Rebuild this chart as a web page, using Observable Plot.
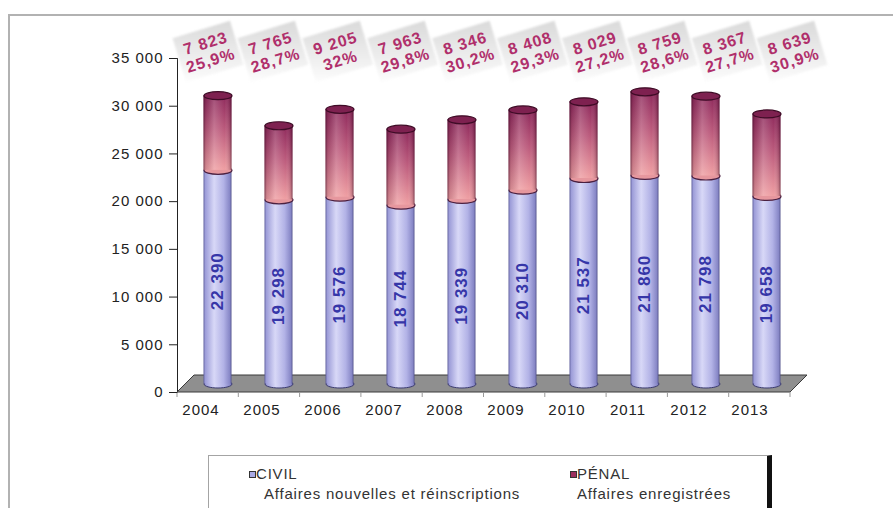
<!DOCTYPE html>
<html>
<head>
<meta charset="utf-8">
<script src="https://cdn.jsdelivr.net/npm/d3@7"></script>
<script src="https://cdn.jsdelivr.net/npm/@observablehq/plot@0.6"></script>
<style>
  html, body { margin: 0; padding: 0; background: #fff; }
  body { position: relative; width: 893px; height: 508px; overflow: hidden; font-family: "Liberation Sans", Arial, sans-serif; }
  #chart { position: absolute; left: 0; top: 0; }
  #frame { position: absolute; left: 8px; top: 14px; width: 900px; height: 600px;
           border-top: 2px solid #b2b2b2; border-left: 2px solid #b2b2b2; pointer-events: none; }
  #legend { position: absolute; left: 208px; top: 455px; width: 558px; height: 70px;
            border: 1px solid #a4a4a4; border-right: 5px solid #111; background: #fff; }
  #legend span { position: absolute; white-space: nowrap; font-size: 15px; line-height: 15px;
                 color: #333; letter-spacing: 0.8px; }
  #legend i { position: absolute; width: 5px; height: 5px; border: 1px solid #333; }
  .label-card { filter: blur(1.2px); }
</style>
</head>
<body>
<div id="chart"></div>
<div id="frame"></div>
<div id="legend">
  <i style="left:40px;top:15px;background:#a9a9e4"></i>
  <span style="left:47px;top:10px">CIVIL</span>
  <span style="left:55px;top:30px">Affaires nouvelles et réinscriptions</span>
  <i style="left:361px;top:15px;background:#9c2e5e"></i>
  <span style="left:368px;top:10px">PÉNAL</span>
  <span style="left:368px;top:30px">Affaires enregistrées</span>
</div>
<script>
// Cases per year: civil (new cases and re-registrations) and criminal (registered cases)
const years = ["2004", "2005", "2006", "2007", "2008", "2009", "2010", "2011", "2012", "2013"];
const civil = [22390, 19298, 19576, 18744, 19339, 20310, 21537, 21860, 21798, 19658];
const penal = [7823, 7765, 9205, 7963, 8346, 8408, 8029, 8759, 8367, 8639];
const penalShare = ["25,9%", "28,7%", "32%", "29,8%", "30,2%", "29,3%", "27,2%", "28,6%", "27,7%", "30,9%"];
const yTicks = [0, 5000, 10000, 15000, 20000, 25000, 30000, 35000];

const rows = years.map((year, i) => ({
  year, i, civil: civil[i], penal: penal[i], total: civil[i] + penal[i], share: penalShare[i]
}));

const fmt = (d) => d3.format(",")(d).replace(/,/g, " ");

// pseudo-3D depth of the floor; cylinders stand halfway into it
const depth = 17;
const half = depth / 2;

// elliptical cap for the cylinders
function ellipse(rx, ry) {
  const k = 0.5523;
  return {
    draw(c) {
      c.moveTo(rx, 0);
      c.bezierCurveTo(rx, ry * k, rx * k, ry, 0, ry);
      c.bezierCurveTo(-rx * k, ry, -rx, ry * k, -rx, 0);
      c.bezierCurveTo(-rx, -ry * k, -rx * k, -ry, 0, -ry);
      c.bezierCurveTo(rx * k, -ry, rx, -ry * k, rx, 0);
      c.closePath();
    }
  };
}

// tilted card behind the value labels
function card(w, h, deg) {
  const t = deg * Math.PI / 180, cs = Math.cos(t), sn = Math.sin(t);
  const pts = [[-w / 2, -h / 2], [w / 2, -h / 2], [w / 2, h / 2], [-w / 2, h / 2]]
    .map(([x, y]) => [x * cs - y * sn, x * sn + y * cs]);
  return {
    draw(c) {
      c.moveTo(pts[0][0], pts[0][1]);
      for (const p of pts.slice(1)) c.lineTo(p[0], p[1]);
      c.closePath();
    }
  };
}

const cap = ellipse(14, 4);
const labelAngle = -17;

const topLabels = rows.flatMap((r) => {
  const dx = -1.5 + 3.9 * r.i;
  return [
    Plot.dot([r], {x: "year", frameAnchor: "top", dx, dy: -7, symbol: card(60, 46, labelAngle),
      fill: "url(#cardGrad)", stroke: "none", className: "label-card"}),
    Plot.text([r], {x: "year", frameAnchor: "top", lineAnchor: "middle", dx, dy: -7, rotate: labelAngle,
      text: (d) => `${fmt(d.penal)}\n${d.share}`, lineHeight: 1.12,
      fill: "#b02f6b", fontSize: 16, fontWeight: "bold", letterSpacing: "1.1px"})
  ];
});

const chart = Plot.plot({
  width: 893,
  height: 440,
  marginTop: 58,
  marginBottom: 48,
  marginLeft: 177,
  marginRight: 103,
  style: {fontFamily: "Liberation Sans, Arial, sans-serif", fontSize: "15px", color: "#222",
          letterSpacing: "1px", overflow: "visible", background: "transparent"},
  x: {domain: years, paddingInner: 0.544, paddingOuter: 0.272, axis: null},
  y: {domain: [0, 35000], ticks: yTicks, tickFormat: fmt, tickSize: 8, tickPadding: 6,
      line: true, label: null},
  marks: [
    ...topLabels,
    // bottom of the cylinders
    Plot.dot(rows, {x: "year", y: () => 0, dx: half, dy: -half, symbol: cap,
      fill: "url(#civilGrad)", stroke: "#3c3c70", strokeWidth: 1}),
    // civil part
    Plot.barY(rows, {x: "year", y1: () => 0, y2: "civil", dx: half, dy: -half,
      fill: "url(#civilGrad)"}),
    // junction civil / penal
    Plot.dot(rows, {x: "year", y: "civil", dx: half, dy: -half, symbol: cap,
      fill: "#e6979e", stroke: "#4a2040", strokeWidth: 1.2}),
    // penal part
    Plot.barY(rows, {x: "year", y1: "civil", y2: "total", dx: half, dy: -half,
      fill: "url(#penalGrad)"}),
    Plot.barY(rows, {x: "year", y1: "civil", y2: "total", dx: half, dy: -half,
      fill: "url(#shadeGrad)"}),
    // top of the cylinders
    Plot.dot(rows, {x: "year", y: "total", dx: half, dy: -half, symbol: cap,
      fill: "#7e2150", stroke: "#3e0c26", strokeWidth: 1.2}),
    // civil values inside the cylinders
    Plot.text(rows, {x: "year", y: (d) => d.civil / 2, dx: half, dy: -half + 4, rotate: -90,
      text: (d) => fmt(d.civil), fill: "#3636a8", fontSize: 17, fontWeight: "bold",
      letterSpacing: "0.8px"}),
    // year labels under the floor
    Plot.text(years, {x: (d) => d, frameAnchor: "bottom", dy: 22, dx: -half,
      fill: "#222", fontSize: 15})
  ]
});

// gradients used by the cylinders and label cards
chart.insertAdjacentHTML("afterbegin", `
<defs>
  <linearGradient id="civilGrad" x1="0" x2="1" y1="0" y2="0">
    <stop offset="0" stop-color="#5e5e9c"/>
    <stop offset="0.06" stop-color="#9c9cd8"/>
    <stop offset="0.38" stop-color="#d8d8f7"/>
    <stop offset="0.72" stop-color="#b2b2e6"/>
    <stop offset="0.94" stop-color="#8686c6"/>
    <stop offset="1" stop-color="#55558e"/>
  </linearGradient>
  <linearGradient id="penalGrad" x1="0" x2="0" y1="0" y2="1">
    <stop offset="0" stop-color="#8e2a5c"/>
    <stop offset="0.45" stop-color="#bb5a7c"/>
    <stop offset="1" stop-color="#ef9fa3"/>
  </linearGradient>
  <linearGradient id="shadeGrad" x1="0" x2="1" y1="0" y2="0">
    <stop offset="0" stop-color="#2a0018" stop-opacity="0.55"/>
    <stop offset="0.08" stop-color="#2a0018" stop-opacity="0.15"/>
    <stop offset="0.38" stop-color="#ffffff" stop-opacity="0.18"/>
    <stop offset="0.75" stop-color="#ffffff" stop-opacity="0"/>
    <stop offset="0.94" stop-color="#2a0018" stop-opacity="0.2"/>
    <stop offset="1" stop-color="#2a0018" stop-opacity="0.55"/>
  </linearGradient>
  <linearGradient id="cardGrad" x1="0" x2="0" y1="0" y2="1">
    <stop offset="0" stop-color="#dadada"/>
    <stop offset="0.55" stop-color="#ececec"/>
    <stop offset="1" stop-color="#fdfdfd"/>
  </linearGradient>
</defs>`);

// floor of the chart and category separators, from the plot's scales
const X = chart.scale("x"), Y = chart.scale("y");
const [xa, xb] = X.range;
const y0 = Y.apply(0);
const step = (xb - xa) / years.length;
const ns = "http://www.w3.org/2000/svg";
const floor = document.createElementNS(ns, "g");
const poly = document.createElementNS(ns, "polygon");
poly.setAttribute("points", [[xa, y0], [xb, y0], [xb + depth, y0 - depth], [xa + depth, y0 - depth]].map((p) => p.join(",")).join(" "));
poly.setAttribute("fill", "#8f8f8f");
poly.setAttribute("stroke", "#3a3a3a");
poly.setAttribute("stroke-width", "1");
floor.appendChild(poly);
for (let k = 0; k <= years.length; k++) {
  const t = document.createElementNS(ns, "line");
  const x = xa + k * step;
  t.setAttribute("x1", x); t.setAttribute("x2", x);
  t.setAttribute("y1", y0); t.setAttribute("y2", y0 + 5);
  t.setAttribute("stroke", "#999");
  floor.appendChild(t);
}
const firstG = chart.querySelector("g");
chart.insertBefore(floor, firstG);

document.getElementById("chart").appendChild(chart);
</script>
</body>
</html>
